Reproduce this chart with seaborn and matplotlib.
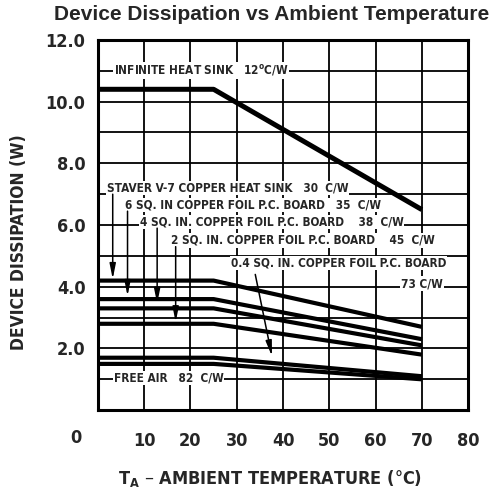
import numpy as np
import pandas as pd
import matplotlib
matplotlib.use("Agg")
import matplotlib.pyplot as plt
import seaborn as sns

# curve data: flat up to the bend, then linear derating to 70 C
series = ["Infinite heat sink", "Staver V-7", "6 sq in", "4 sq in", "2 sq in", "0.4 sq in", "Free air"]
temp_pts = [0, 25, 70]
flat_w = [10.4, 4.2, 3.6, 3.3, 2.8, 1.7, 1.5]
end_w = [6.5, 2.7, 2.3, 2.1, 1.8, 1.1, 1.0]
line_w = [3.6, 3.0, 3.0, 3.0, 3.0, 3.0, 3.0]

x_ticks = [10, 20, 30, 40, 50, 60, 70, 80]
y_ticks = [2, 4, 6, 8, 10, 12]
y_tick_labels = ["2.0", "4.0", "6.0", "8.0", "10.0", "12.0"]

# labels: text, x, y
labels = [
    ("INFINITE HEAT SINK   12$^\\mathregular{o}$C/W", 3.4, 11.0),
    ("STAVER V-7 COPPER HEAT SINK   30  C/W", 2.0, 7.2),
    ("6 SQ. IN COPPER FOIL P.C. BOARD   35  C/W", 5.8, 6.65),
    ("4 SQ. IN. COPPER FOIL P.C. BOARD    38  C/W", 9.0, 6.1),
    ("2 SQ. IN. COPPER FOIL P.C. BOARD    45  C/W", 15.7, 5.5),
    ("0.4 SQ. IN. COPPER FOIL P.C. BOARD", 28.8, 4.77),
    ("73 C/W", 65.5, 4.1),
    ("FREE AIR   82  C/W", 3.4, 1.04),
]
# arrows: (x_start, y_start, x_tip, y_tip)
arrows = [
    (3.2, 7.0, 3.2, 4.25),
    (6.4, 6.45, 6.4, 3.7),
    (12.8, 5.9, 12.8, 3.45),
    (16.8, 5.3, 16.8, 2.85),
    (34.0, 4.4, 37.6, 1.75),
]

rows = []
for name, f, e in zip(series, flat_w, end_w):
    for t, p in zip(temp_pts, [f, f, e]):
        rows.append({"series": name, "temp": t, "watts": p})
df = pd.DataFrame(rows)

sns.set_style("white")
plt.rcParams["font.family"] = ["DejaVu Sans"]
plt.rcParams["font.stretch"] = "condensed"
plt.rcParams["font.weight"] = "bold"

fig = plt.figure(figsize=(4.97, 4.93), dpi=100)
ax = fig.add_axes([0.197, 0.168, 0.745, 0.751])

for name, lw in zip(series, line_w):
    sns.lineplot(data=df[df["series"] == name], x="temp", y="watts",
                 color="black", linewidth=lw, legend=False, ax=ax,
                 zorder=4, solid_capstyle="butt")

ax.set_xlim(0, 80)
ax.set_ylim(0, 12)
ax.set_xticks(x_ticks)
ax.set_xticklabels([str(t) for t in x_ticks])
ax.set_yticks(y_ticks)
ax.set_yticklabels(y_tick_labels)
ax.set_yticks(np.arange(1, 12, 2), minor=True)
ax.grid(True, which="both", color="black", linewidth=1.3)
ax.set_axisbelow(True)
ax.tick_params(which="both", length=0)
ax.tick_params(axis="x", pad=16, labelsize=13)
ax.tick_params(axis="y", pad=9, labelsize=13)
for s in ax.spines.values():
    s.set_visible(True)
    s.set_color("black")
    s.set_linewidth(2.2)

ax.annotate("0", xy=(0, 0), xytext=(-16, -20), textcoords="offset points",
            ha="center", va="center", fontsize=13, fontweight="bold",
            annotation_clip=False)

for txt, x, y in labels:
    ax.text(x, y, txt, fontsize=8.5, fontweight="bold", va="center", ha="left",
            zorder=5, bbox=dict(facecolor="white", edgecolor="none", pad=0.6))

for x0, y0, x1, y1 in arrows:
    ax.annotate("", xy=(x1, y1), xytext=(x0, y0), zorder=6,
                arrowprops=dict(arrowstyle="-|>,head_length=0.9,head_width=0.18",
                                color="black", lw=1.1, shrinkA=0, shrinkB=0))

ax.set_xlabel("T$_\\mathregular{A}$ \u2013 AMBIENT TEMPERATURE (\u00b0C)",
              fontsize=13, fontweight="bold")
ax.xaxis.set_label_coords(0.465, -0.155)
ax.set_ylabel("DEVICE DISSIPATION (W)", fontsize=12.5, fontweight="bold")
ax.yaxis.set_label_coords(-0.188, 0.454)

fig.suptitle("Device Dissipation vs Ambient Temperature", x=0.546, y=0.99,
             fontsize=15, fontweight="bold", stretch="normal",
             family=["Liberation Sans", "DejaVu Sans"])

fig.savefig("out.png", dpi=100)
